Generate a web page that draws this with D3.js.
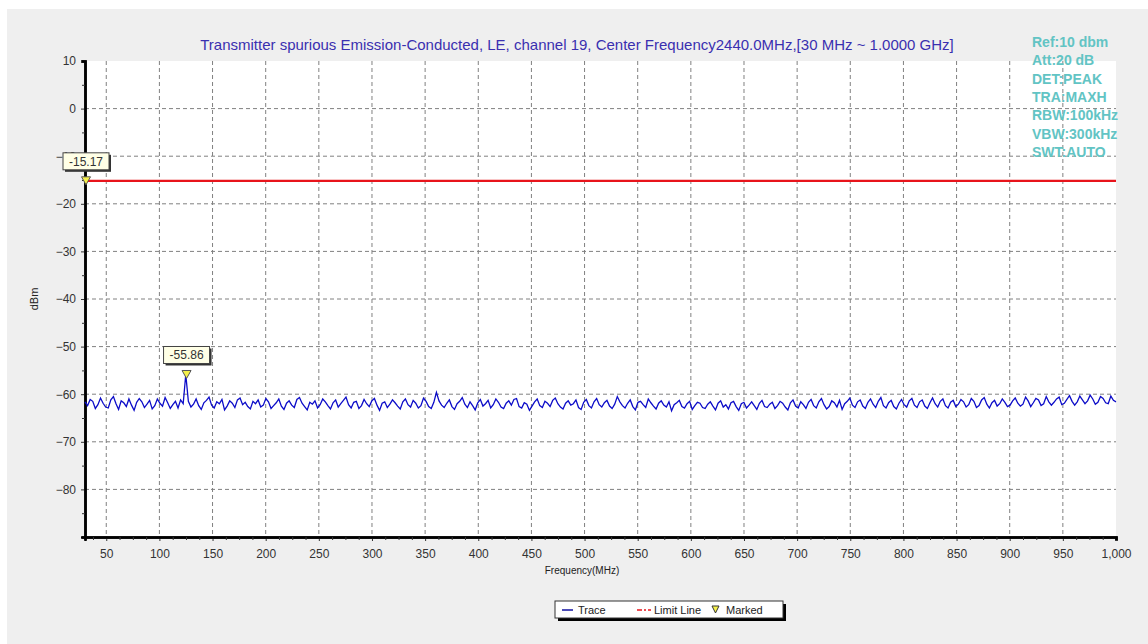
<!DOCTYPE html>
<html lang="en">
    <head>
        <meta charset="utf-8">
        <title>Spurious Emission</title>
        <script type="text/javascript" src="https://d3js.org/d3.v7.min.js"></script>
        <style type="text/css">
            body{ margin:0; background:#fff; }
            text{ font-family: "Liberation Sans", Arial, sans-serif; }
            .grid line{ stroke:#808080; stroke-width:1; stroke-dasharray:4,3; }
            .tick-label{ font-size:12px; fill:#333; }
        </style>
    </head>
    <body>
        <svg id="chart" width="1148" height="644"></svg>
        <script type="text/javascript">
        //chart text
        const title = "Transmitter spurious Emission-Conducted, LE, channel 19, Center Frequency2440.0MHz,[30 MHz ~ 1.0000 GHz]";
        const settings = ["Ref:10 dbm", "Att:20 dB", "DET:PEAK", "TRA:MAXH", "RBW:100kHz", "VBW:300kHz", "SWT:AUTO"];
        const legendItems = ["Trace", "Limit Line", "Marked"];
        //axes
        const freqRange = [30, 1000];
        const levelRange = [-90, 10];
        const xTicks = [50,100,150,200,250,300,350,400,450,500,550,600,650,700,750,800,850,900,950,1000];
        const yTicks = [10,0,-10,-20,-30,-40,-50,-60,-70,-80];
        //limit and markers
        const limitLevel = -15.17;
        const markers = [
            {freq: 30, level: -15.17},
            {freq: 124.6, level: -55.86}
        ];
        //trace readings (dBm), swept evenly 30 MHz -> 1000 MHz
        const traceLevels = [
            -61.6,-62.4,-61.1,-61.5,-63.0,-62.2,-60.8,-61.9,-62.7,-62.9,-61.2,-60.5,-62.0,-63.2,-61.4,-61.8,-62.6,-61.0,-62.3,-63.4,
            -61.7,-60.9,-61.6,-62.8,-62.1,-61.3,-63.1,-62.4,-61.0,-61.9,-62.5,-60.7,-61.8,-63.0,-62.2,-61.5,-62.9,-61.2,-62.0,-55.86,
            -61.5,-62.7,-62.1,-61.0,-62.4,-63.2,-61.8,-61.3,-60.6,-62.3,-62.9,-61.6,-62.0,-61.1,-63.3,-62.5,-61.4,-61.9,-62.8,-61.2,
            -60.8,-62.2,-61.7,-62.6,-63.1,-61.5,-62.0,-61.2,-62.7,-62.3,-60.9,-61.6,-63.0,-62.4,-61.8,-61.0,-62.5,-63.2,-61.9,-61.4,
            -62.3,-62.8,-61.1,-60.7,-61.9,-62.6,-63.3,-61.7,-62.1,-61.4,-62.9,-62.2,-61.0,-61.6,-62.4,-63.1,-61.8,-61.2,-62.7,-62.0,
            -61.3,-60.6,-62.2,-62.9,-61.7,-61.5,-63.0,-62.4,-61.1,-62.0,-62.6,-61.4,-60.9,-62.3,-63.4,-61.9,-61.6,-62.8,-62.1,-61.2,
            -61.8,-62.5,-63.1,-61.6,-61.0,-62.2,-62.7,-61.3,-61.9,-62.9,-62.4,-60.8,-61.5,-62.6,-63.0,-61.7,-59.6,-61.4,-62.3,-62.8,
            -61.9,-61.2,-62.6,-63.2,-62.0,-61.5,-60.7,-62.1,-62.8,-61.6,-62.4,-63.3,-61.8,-61.1,-62.5,-62.0,-61.3,-62.9,-62.2,-61.0,
            -61.7,-62.7,-63.0,-61.9,-61.4,-62.3,-61.1,-60.9,-62.6,-62.9,-61.8,-62.1,-63.4,-62.5,-61.6,-61.0,-62.4,-62.8,-61.5,-61.9,
            -62.6,-61.3,-60.8,-62.0,-62.7,-63.1,-61.9,-61.4,-62.3,-62.0,-61.2,-62.8,-63.2,-61.7,-61.1,-62.4,-62.9,-61.6,-60.9,-62.2,
            -62.7,-61.8,-61.3,-62.5,-63.0,-62.1,-60.5,-61.6,-62.4,-62.9,-61.9,-61.2,-62.6,-63.3,-61.7,-61.5,-62.2,-62.8,-61.0,-61.8,
            -62.5,-63.1,-61.9,-61.4,-62.3,-62.7,-61.6,-63.5,-62.2,-61.8,-61.3,-62.6,-62.9,-62.0,-61.5,-63.2,-62.4,-61.7,-61.9,-62.8,
            -63.0,-62.1,-61.6,-62.5,-63.3,-61.9,-61.4,-62.7,-62.2,-63.1,-61.8,-61.5,-62.6,-63.4,-62.0,-61.7,-62.9,-62.3,-61.6,-62.4,
            -63.2,-61.9,-61.3,-62.6,-62.8,-62.1,-61.7,-63.0,-62.4,-61.5,-61.9,-62.7,-63.3,-61.8,-61.2,-62.5,-62.9,-61.6,-62.2,-63.0,
            -61.7,-61.1,-62.4,-62.9,-61.6,-60.9,-62.2,-63.1,-62.6,-61.4,-61.8,-62.7,-61.3,-63.2,-62.0,-61.5,-60.8,-62.3,-62.8,-61.6,
            -61.2,-62.5,-63.0,-61.7,-61.0,-62.1,-62.8,-61.5,-60.7,-62.4,-62.9,-61.8,-61.3,-62.6,-63.1,-61.9,-61.1,-62.2,-62.7,-61.4,
            -60.9,-62.3,-62.8,-61.6,-61.2,-62.5,-63.0,-61.8,-60.8,-62.0,-62.7,-61.5,-61.0,-62.4,-62.9,-61.7,-61.3,-62.6,-62.1,-61.1,
            -61.6,-62.7,-62.2,-60.9,-61.5,-62.8,-62.4,-61.2,-60.7,-62.1,-62.9,-61.8,-61.3,-62.5,-62.0,-61.0,-61.7,-62.6,-62.3,-61.4,
            -60.8,-61.9,-62.5,-62.1,-60.6,-61.4,-62.6,-61.8,-60.9,-61.2,-62.4,-62.0,-60.5,-61.6,-62.3,-61.7,-61.0,-60.6,-62.2,-61.9,
            -61.1,-60.3,-61.5,-62.3,-61.6,-60.4,-61.2,-62.0,-61.4,-60.2,-61.0,-62.1,-61.7,-60.5,-60.9,-61.8,-62.0,-60.4,-61.3,-61.6
        ];

        //declare const
        const svg = d3.select("#chart");
        const w = 1148;
        const h = 644;
        const plot = {left: 85, right: 1116, top: 61, bottom: 537};

        const x = d3.scaleLinear().domain(freqRange).range([plot.left, plot.right]);
        const y = d3.scaleLinear().domain(levelRange).range([plot.bottom, plot.top]);
        const step = (freqRange[1] - freqRange[0]) / (traceLevels.length - 1);
        const trace = traceLevels.map((v, i) => ({freq: freqRange[0] + i * step, level: v}));

        //background panel
        svg.append("rect").attr("x", 7).attr("y", 9).attr("width", w - 7).attr("height", h - 9).attr("fill", "#efefef");
        svg.append("rect").attr("x", plot.left).attr("y", plot.top)
            .attr("width", plot.right - plot.left).attr("height", plot.bottom - plot.top).attr("fill", "#fff");

        //grid
        const grid = svg.append("g").attr("class", "grid");
        grid.selectAll(".vg").data(xTicks.filter(d => d < 1000)).join("line").attr("class", "vg")
            .attr("x1", d => x(d)).attr("x2", d => x(d)).attr("y1", plot.top).attr("y2", plot.bottom);
        grid.selectAll(".hg").data(yTicks.filter(d => d < 10)).join("line").attr("class", "hg")
            .attr("x1", plot.left).attr("x2", plot.right).attr("y1", d => y(d)).attr("y2", d => y(d));

        //axes
        svg.append("g").attr("transform", `translate(0,${plot.bottom})`)
            .call(d3.axisBottom(x).tickValues(xTicks).tickFormat(d3.format(",")).tickSize(4).tickPadding(8));
        const xMinor = d3.range(37.5, 1000, 12.5).filter(d => xTicks.indexOf(d) < 0);
        svg.append("g").attr("transform", `translate(0,${plot.bottom})`)
            .call(d3.axisBottom(x).tickValues(xMinor).tickFormat("").tickSize(3));
        svg.append("g").attr("transform", `translate(${plot.left},0)`)
            .call(d3.axisLeft(y).tickValues(yTicks).tickSize(4).tickPadding(5));
        const yMinor = d3.range(-85, 10, 10);
        svg.append("g").attr("transform", `translate(${plot.left},0)`)
            .call(d3.axisLeft(y).tickValues(yMinor).tickFormat("").tickSize(3));
        svg.selectAll(".domain").attr("stroke", "#000").attr("stroke-width", 2.5);
        svg.selectAll(".tick line").attr("stroke", "#333");
        svg.selectAll(".tick text").attr("class", "tick-label").attr("font-family", null).attr("font-size", null);

        //axis labels
        svg.append("text").attr("x", 582).attr("y", 574)
            .attr("text-anchor", "middle").attr("font-size", 10).attr("fill", "#222").text("Frequency(MHz)");
        svg.append("text").attr("transform", `translate(38,${(plot.top + plot.bottom) / 2}) rotate(-90)`)
            .attr("text-anchor", "middle").attr("font-size", 11).attr("fill", "#222").text("dBm");

        //title
        svg.append("text").attr("x", 577).attr("y", 50).attr("text-anchor", "middle")
            .attr("font-size", 15).attr("fill", "#3a2fb0").text(title);

        //settings
        svg.append("g").selectAll("text").data(settings).join("text")
            .attr("x", 1032).attr("y", (d, i) => 47 + i * 18.3)
            .attr("font-size", 14).attr("font-weight", "bold").attr("fill", "#62c4c4").text(d => d);

        //limit line
        svg.append("line").attr("x1", plot.left).attr("x2", plot.right)
            .attr("y1", y(limitLevel)).attr("y2", y(limitLevel))
            .attr("stroke", "#e8141b").attr("stroke-width", 2.2);

        //trace
        const line = d3.line().x(d => x(d.freq)).y(d => y(d.level));
        svg.append("path").datum(trace).attr("d", line)
            .attr("fill", "none").attr("stroke", "#0c0cc8").attr("stroke-width", 1.3);

        //markers
        const mk = svg.append("g").selectAll("g").data(markers).join("g")
            .attr("transform", d => `translate(${x(d.freq) + 1},${y(d.level)})`);
        mk.append("path").attr("d", "M-4.5,-4 L4.5,-4 L0,4 Z")
            .attr("fill", "#f5f04a").attr("stroke", "#555").attr("stroke-width", 1);
        mk.append("rect").attr("x", -21).attr("y", -26).attr("width", 46).attr("height", 17).attr("fill", "#333");
        mk.append("rect").attr("x", -23).attr("y", -28).attr("width", 46).attr("height", 17)
            .attr("fill", "#ffffe6").attr("stroke", "#444").attr("stroke-width", 1);
        mk.append("text").attr("x", 0).attr("y", -15).attr("text-anchor", "middle")
            .attr("font-size", 12).attr("fill", "#333").text(d => d.level.toFixed(2));

        //legend
        const lg = svg.append("g").attr("transform", "translate(555,601)");
        lg.append("rect").attr("x", 3).attr("y", 3).attr("width", 228).attr("height", 17).attr("fill", "#000");
        lg.append("rect").attr("width", 228).attr("height", 17).attr("fill", "#fff").attr("stroke", "#333");
        lg.append("line").attr("x1", 7).attr("x2", 18).attr("y1", 9).attr("y2", 9).attr("stroke", "#1010a0").attr("stroke-width", 1.5);
        lg.append("text").attr("x", 23).attr("y", 13).attr("font-size", 11).attr("fill", "#222").text(legendItems[0]);
        lg.append("line").attr("x1", 82).attr("x2", 96).attr("y1", 9).attr("y2", 9).attr("stroke", "#e8141b")
            .attr("stroke-width", 1.5).attr("stroke-dasharray", "5,2,2,2");
        lg.append("text").attr("x", 99).attr("y", 13).attr("font-size", 11).attr("fill", "#222").text(legendItems[1]);
        lg.append("path").attr("d", "M157,5 L164,5 L160.5,12 Z").attr("fill", "#f5f04a").attr("stroke", "#333");
        lg.append("text").attr("x", 171).attr("y", 13).attr("font-size", 11).attr("fill", "#222").text(legendItems[2]);
        </script>
    </body>
</html>
